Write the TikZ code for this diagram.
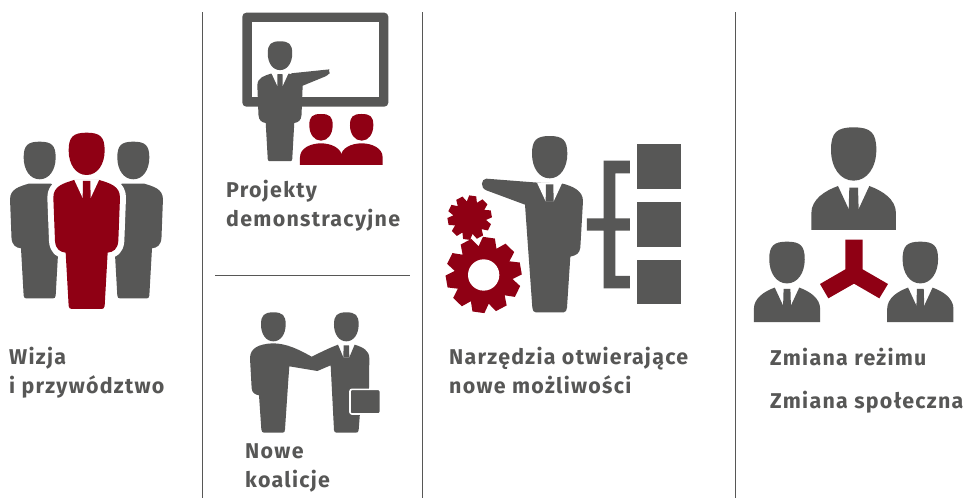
\documentclass[tikz,border=0pt]{standalone}
\usepackage{fontspec}
\setmainfont{Fira Sans}[LetterSpace=6]
\definecolor{gr}{HTML}{575756}
\definecolor{rd}{HTML}{8F0014}
\tikzset{
  label text/.style={font=\bfseries\fontsize{21.4}{29}\selectfont,text=gr,anchor=north west,inner sep=0pt,align=left},
  sep line/.style={draw=gr,line width=0.9pt},
  icon/.style={x=0.3333pt,y=-0.3333pt}
}
% head: centre x, top y, half width, height (zoom units)
\newcommand{\headshape}[5]{\fill[#5] (#1,#2) .. controls ({#1+0.75*#3},#2) and ({#1+#3},{#2+0.1*#4}) .. ({#1+#3},{#2+0.42*#4}) .. controls ({#1+#3},{#2+0.75*#4}) and ({#1+0.6*#3},{#2+#4}) .. (#1,{#2+#4}) .. controls ({#1-0.6*#3},{#2+#4}) and ({#1-#3},{#2+0.75*#4}) .. ({#1-#3},{#2+0.42*#4}) .. controls ({#1-#3},{#2+0.1*#4}) and ({#1-0.75*#3},#2) .. (#1,#2) -- cycle;}
% bust with collar, unit coordinates of the large one
\newcommand{\bustman}[4]{\begin{scope}[shift={(#1,#2)},x=#3*0.3333pt,y=-#3*0.3333pt]
  \headshape{0}{0}{68}{160}{#4}
  \fill[#4] (-127,308) -- (-127,258) .. controls (-127,215) and (-85,190) .. (-47,176) -- (-15,245) -- (15,245) -- (47,176) .. controls (85,190) and (127,215) .. (127,258) -- (127,308) -- cycle;
  \fill[#4] (-13,181) -- (13,181) -- (15,246) -- (-15,246) -- cycle;
\end{scope}}
% plain bust: shoulders without collar
\newcommand{\plainbust}[5]{\headshape{#1}{#2}{35}{80}{#4}
  \fill[#4] ({#1-63},{#2+153}) -- ({#1-63},{#2+130}) .. controls ({#1-63},{#2+102}) and ({#1-30},{#2+88}) .. (#1,{#2+88}) .. controls ({#1+30},{#2+88}) and ({#1+63},{#2+102}) .. ({#1+63},{#2+130}) -- ({#1+63},{#2+153}) -- cycle;}
% standing man, scaled; origin at top of head
\newcommand{\bodyshape}{(-38,142) .. controls (-70,152) and (-100,160) .. (-100,195) -- (-95,325) .. controls (-93,350) and (-80,358) .. (-63,360) -- (-54,520) .. controls (-53,526) and (-50,529) .. (-45,529) -- (45,529) .. controls (50,529) and (53,526) .. (54,520) -- (63,360) .. controls (80,358) and (93,350) .. (95,325) -- (100,195) .. controls (100,160) and (70,152) .. (38,142) -- cycle}
\newcommand{\standman}[5]{\begin{scope}[shift={(#1,#2)},x=#3*0.3333pt,y=-#3*0.3333pt]
  #5
  \headshape{0}{0}{54}{127}{#4}
  \fill[#4] \bodyshape;
\end{scope}}
\newcommand{\collar}{\fill[white] (-38,140) -- (-12,196) -- (12,196) -- (38,140) -- cycle; }
\newcommand{\tie}[1]{\fill[#1] (-11,145) -- (11,145) -- (12,197) -- (-12,197) -- cycle;}
% gear
\newcommand{\gearshape}[6]{% x y body-r outer-r teeth hole
  \fill[rd] (#1,#2) circle[radius=#3];
  \foreach \k in {1,...,#5}{
    \pgfmathsetmacro{\aa}{\k*360/#5+10}
    \begin{scope}[shift={(#1,#2)},rotate=\aa]
      \fill[rd] ({#3-5},{-0.24*#4}) -- (#4,{-0.16*#4}) -- (#4,{0.16*#4}) -- ({#3-5},{0.24*#4}) -- cycle;
    \end{scope}}
  \ifnum#6>0 \fill[white] (#1,#2) circle[radius=#6];\fi}
\begin{document}
\begin{tikzpicture}[x=1pt,y=-1pt]
\useasboundingbox (0,0) rectangle (965,498);
\fill[white] (0,0) rectangle (965,498);
% separators
\coordinate (v1t) at (202,12); \coordinate (v1b) at (202,498);
\coordinate (v2t) at (422,12); \coordinate (v2b) at (422,498);
\coordinate (v3t) at (735.5,12); \coordinate (v3b) at (735.5,498);
\coordinate (hl) at (215,275); \coordinate (hr) at (409.5,275);
\draw[sep line] (v1t) -- (v1b);
\draw[sep line] (v2t) -- (v2b);
\draw[sep line] (v3t) -- (v3b);
\draw[sep line] (hl) -- (hr);
% Wizja icon
\begin{scope}[shift={(0,120)},icon]
  \standman{119}{65}{0.889}{gr}{}
  \standman{400}{65}{0.889}{gr}{}
  \begin{scope}[shift={(260,38)}]
    \draw[white,line width=12pt,line join=round,fill=white] \bodyshape;
    \fill[rd] \bodyshape;
    \headshape{0}{0}{54}{127}{rd}
    \collar
    \tie{rd}
  \end{scope}
\end{scope}
% Presenter icon
\begin{scope}[shift={(220,0)},icon]
  \fill[gr,rounded corners=4pt] (67,38) rectangle (505,320);
  \fill[white] (95,67) rectangle (477,292);
  \fill[white] (225,285) rectangle (247,325);
  \begin{scope}[shift={(180,124)},x=0.68*0.3333pt,y=-0.68*0.3333pt]
    \fill[gr] \bodyshape;
    \headshape{0}{0}{54}{127}{gr}
    \collar
    \tie{gr}
    \fill[gr,rounded corners=3pt] (40,142) -- (205,125) .. controls (215,124) and (218,142) .. (212,150) -- (90,200) -- (60,200) -- cycle;
  \end{scope}
  \plainbust{303}{342}{1}{rd}{}
  \plainbust{425}{342}{1}{rd}{}
\end{scope}
% Handshake icon
\begin{scope}[shift={(230,300)},icon]
  \headshape{130}{37}{37}{87}{gr}
  \headshape{349}{37}{37}{87}{gr}
  \fill[gr] (128,130) .. controls (85,132) and (60,145) .. (60,175) -- (65,265) .. controls (66,278) and (75,284) .. (87,286) -- (94,388) .. controls (95,395) and (97,398) .. (102,398) -- (158,398) .. controls (163,398) and (165,395) .. (165,388) -- (175,240) -- (178,199) -- (262,213) -- (302,196) -- (312,390) .. controls (313,396) and (315,398) .. (320,398) -- (378,398) .. controls (383,398) and (385,396) .. (386,390) -- (394,286) .. controls (408,284) and (416,278) .. (417,265) -- (418,175) .. controls (418,152) and (400,142) .. (374,134) -- (358,172) -- (340,172) -- (324,134) .. controls (295,145) and (270,158) .. (245,170) .. controls (205,148) and (170,130) .. (128,130) -- cycle;
  \fill[gr] (341,136) -- (357,136) -- (358,172) -- (340,172) -- cycle;
  \draw[white,line width=1.6pt,fill=gr,rounded corners=2pt] (360,268) rectangle (451,342);
\end{scope}
% Tools icon
\begin{scope}[shift={(435,125)},icon]
  \begin{scope}[shift={(344,33)}]
    \fill[gr] (-35,140) -- (-190,128) .. controls (-205,128) and (-210,155) .. (-190,163) -- (-74,206) -- (-52,515) .. controls (-51,524) and (-48,529) .. (-42,529) -- (42,529) .. controls (48,529) and (51,524) .. (52,515) -- (62,362) .. controls (80,358) and (90,352) .. (92,335) -- (100,195) .. controls (100,165) and (70,150) .. (35,142) -- cycle;
    \headshape{0}{0}{53}{127}{gr}
    \collar
    \tie{gr}
  \end{scope}
  % bracket
  \fill[gr] (506,107) -- (585,107) -- (585,145) -- (541,145) -- (541,280) -- (585,280) -- (585,317) -- (541,317) -- (541,453) -- (585,453) -- (585,490) -- (506,490) -- (506,317) -- (456,317) -- (456,280) -- (506,280) -- cycle;
  \fill[gr] (605,58) rectangle (739,192);
  \fill[gr] (605,231) rectangle (739,365);
  \fill[gr] (605,404) rectangle (739,538);
  \gearshape{104}{278}{50}{66}{10}{0}
  \gearshape{146}{450}{88}{113}{10}{47}
\end{scope}
% Regime icon
\begin{scope}[shift={(745,115)},icon]
  \bustman{326}{37}{1}{gr}
  \bustman{126}{380}{0.783}{gr}
  \bustman{526}{380}{0.783}{gr}
  \fill[rd] (301,374) -- (353,374) -- (353,463) -- (429,507) -- (403,550) -- (327,506) -- (250,550) -- (225,507) -- (301,463) -- cycle;
\end{scope}
% Texts
\node[label text] (t1) at (9,346.5) {Wizja\\i przywództwo};
\node[label text] (t2) at (226,179.5) {Projekty\\demonstracyjne};
\node[label text] (t3) at (245,443.5) {Nowe\\koalicje};
\node[label text] (t4) at (449,346.5) {Narzędzia otwierające\\nowe możliwości};
\node[label text] (t5) at (770,347.5) {Zmiana reżimu};
\node[label text] (t6) at (770,390.5) {Zmiana społeczna};
\end{tikzpicture}
\end{document}
